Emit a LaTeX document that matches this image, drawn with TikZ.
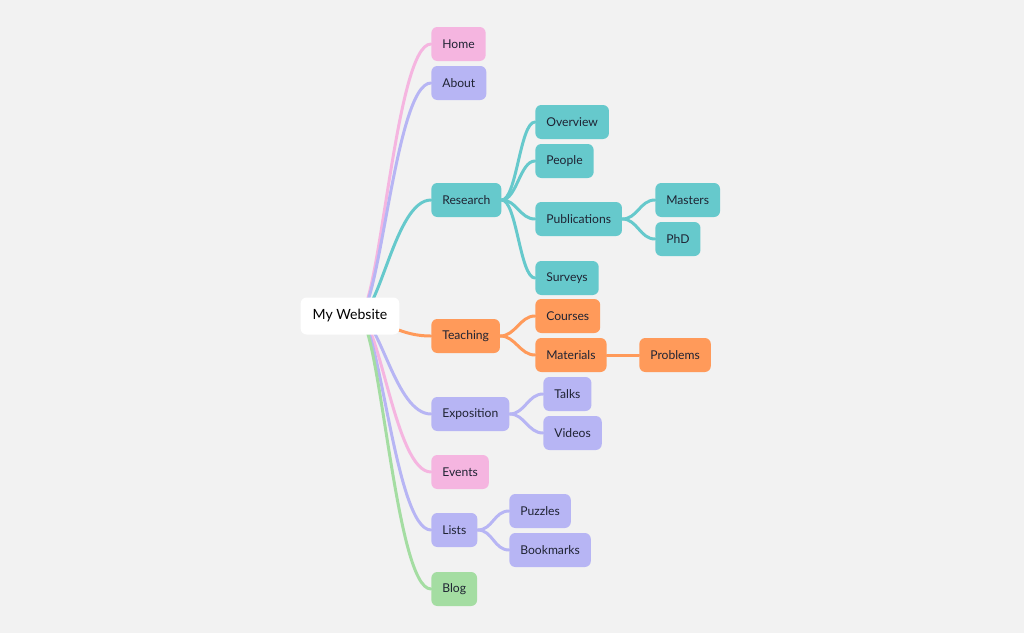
\documentclass[tikz,border=0pt]{standalone}
\usepackage{fontspec}
\setmainfont{Lato}
\usetikzlibrary{backgrounds}

\definecolor{bgc}{HTML}{F2F2F2}
\definecolor{pinkc}{HTML}{F5B5E0}
\definecolor{lavc}{HTML}{B7B5F4}
\definecolor{tealc}{HTML}{66C9CC}
\definecolor{orangec}{HTML}{FF9A5A}
\definecolor{greenc}{HTML}{A4DDA2}
\definecolor{txtc}{HTML}{1F2333}

\begin{document}
\begin{tikzpicture}[x=0.02cm, y=-0.02cm,
    topic/.style={rounded corners=3.4pt, minimum height=0.68cm, inner xsep=0.22cm, anchor=west, text=txtc, font=\fontsize{6.9}{8}\selectfont},
    link/.style={line width=1.7pt, line cap=round}]
    \node[fill=white, rounded corners=3.4pt, minimum height=0.74cm, inner xsep=0.24cm, font=\fontsize{8}{10}\selectfont](root) at (350, 316) {My Website};
    \coordinate (hub) at (358, 316);

    % first level
    \node[topic, fill=pinkc](home) at (431, 44) {Home};
    \node[topic, fill=lavc](about) at (431, 83) {About};
    \node[topic, fill=tealc](research) at (431, 200) {Research};
    \node[topic, fill=orangec](teaching) at (431, 336) {Teaching};
    \node[topic, fill=lavc](exposition) at (431, 414) {Exposition};
    \node[topic, fill=pinkc](events) at (431, 472) {Events};
    \node[topic, fill=lavc](lists) at (431, 530) {Lists};
    \node[topic, fill=greenc](blog) at (431, 589) {Blog};

    % second level
    \node[topic, fill=tealc](overview) at (535, 122) {Overview};
    \node[topic, fill=tealc](people) at (535, 161) {People};
    \node[topic, fill=tealc](publications) at (535, 219) {Publications};
    \node[topic, fill=tealc](surveys) at (535, 278) {Surveys};
    \node[topic, fill=orangec](courses) at (535, 316) {Courses};
    \node[topic, fill=orangec](materials) at (535, 355) {Materials};
    \node[topic, fill=lavc](talks) at (543, 394) {Talks};
    \node[topic, fill=lavc](videos) at (543, 433) {Videos};
    \node[topic, fill=lavc](puzzles) at (509, 511) {Puzzles};
    \node[topic, fill=lavc](bookmarks) at (509, 550) {Bookmarks};

    % third level
    \node[topic, fill=tealc](masters) at (655, 200) {Masters};
    \node[topic, fill=tealc](phd) at (655, 239) {PhD};
    \node[topic, fill=orangec](problems) at (639, 355) {Problems};

    \begin{pgfonlayer}{background}
    \fill[bgc] (0, 0) rectangle (1024, 633);

    \draw[link, pinkc] (hub) .. controls +(22, 0) and +(-36, 0) .. (home.west);
    \draw[link, lavc] (hub) .. controls +(22, 0) and +(-36, 0) .. (about.west);
    \draw[link, tealc] (hub) .. controls +(22, 0) and +(-36, 0) .. (research.west);
    \draw[link, orangec] (hub) .. controls +(22, 0) and +(-36, 0) .. (teaching.west);
    \draw[link, lavc] (hub) .. controls +(22, 0) and +(-36, 0) .. (exposition.west);
    \draw[link, pinkc] (hub) .. controls +(22, 0) and +(-36, 0) .. (events.west);
    \draw[link, lavc] (hub) .. controls +(22, 0) and +(-36, 0) .. (lists.west);
    \draw[link, greenc] (hub) .. controls +(22, 0) and +(-36, 0) .. (blog.west);

    \draw[link, tealc] (research.east) .. controls +(15, 0) and +(-15, 0) .. (overview.west);
    \draw[link, tealc] (research.east) .. controls +(15, 0) and +(-15, 0) .. (people.west);
    \draw[link, tealc] (research.east) .. controls +(15, 0) and +(-15, 0) .. (publications.west);
    \draw[link, tealc] (research.east) .. controls +(15, 0) and +(-15, 0) .. (surveys.west);
    \draw[link, tealc] (publications.east) .. controls +(15, 0) and +(-15, 0) .. (masters.west);
    \draw[link, tealc] (publications.east) .. controls +(15, 0) and +(-15, 0) .. (phd.west);
    \draw[link, orangec] (teaching.east) .. controls +(15, 0) and +(-15, 0) .. (courses.west);
    \draw[link, orangec] (teaching.east) .. controls +(15, 0) and +(-15, 0) .. (materials.west);
    \draw[link, orangec] (materials) -- (problems);
    \draw[link, lavc] (exposition.east) .. controls +(15, 0) and +(-15, 0) .. (talks.west);
    \draw[link, lavc] (exposition.east) .. controls +(15, 0) and +(-15, 0) .. (videos.west);
    \draw[link, lavc] (lists.east) .. controls +(15, 0) and +(-15, 0) .. (puzzles.west);
    \draw[link, lavc] (lists.east) .. controls +(15, 0) and +(-15, 0) .. (bookmarks.west);
    \end{pgfonlayer}
\end{tikzpicture}
\end{document}
